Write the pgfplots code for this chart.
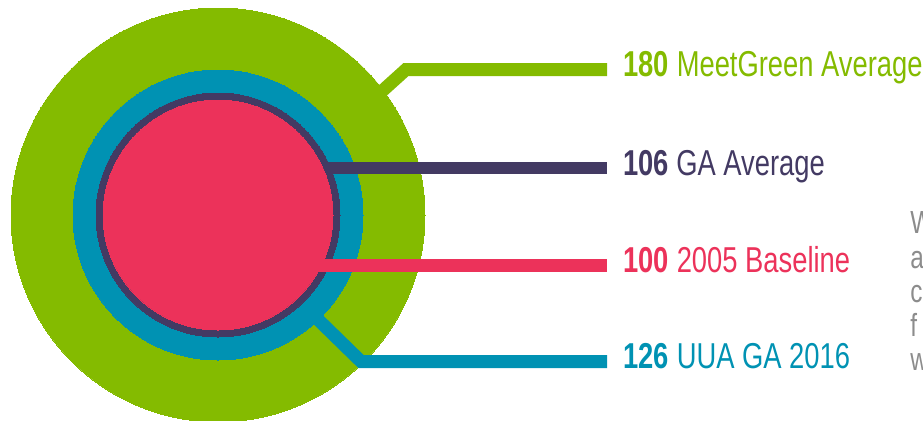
\documentclass[border=0pt]{standalone}
\usepackage{pgfplots}
\pgfplotsset{compat=1.18}
\usepackage{fontspec}
\setmainfont[FakeStretch=0.76]{Liberation Sans}

\definecolor{cgreen}{RGB}{132,187,0}
\definecolor{cblue}{RGB}{0,146,179}
\definecolor{cdark}{RGB}{67,58,99}
\definecolor{cpink}{RGB}{236,50,90}
\definecolor{cgray}{RGB}{140,140,140}

\tikzset{lbl/.style={pos=1, anchor=base west, inner sep=0pt, xshift=5pt, yshift=-3.6pt,
                font=\fontsize{18}{20}\selectfont}}

\begin{document}
\begin{tikzpicture}
\begin{axis}[
    x=0.5pt, y=0.5pt,
    xmin=0, xmax=923, ymin=0, ymax=420,
    y dir=reverse,
    hide axis,
    clip=false,
    clip marker paths=true,
    every axis plot/.append style={line cap=butt, line join=miter},
]
% circles: radius in px = 1.15 * value, 1px = 0.5pt
\addplot [only marks, mark=*, color=cgreen, mark size=103.5pt, mark options={line width=0pt}]
    coordinates {(218,215)};
\addplot [color=cgreen, line width=6.5pt, mark=none]
    coordinates {(370,102) (406,69.5) (607,69.5)}
    node[lbl] {\textbf{180} MeetGreen Average};
\addplot [color=cblue, line width=6.5pt, mark=none]
    coordinates {(300,302) (361,361.5) (607,361.5)}
    node[lbl] {\textbf{126} UUA GA 2016};
\addplot [only marks, mark=*, color=cblue, mark size=72.5pt, mark options={line width=0pt}]
    coordinates {(218,215)};
\addplot [color=cdark, line width=6pt, mark=none]
    coordinates {(300,168) (607,168)}
    node[lbl] {\textbf{106} GA Average};
\addplot [only marks, mark=*, color=cdark, mark size=61pt, mark options={line width=0pt}]
    coordinates {(218,215)};
\addplot [only marks, mark=*, color=cpink, mark size=57.5pt, mark options={line width=0pt}]
    coordinates {(218,215)};
\addplot [color=cpink, line width=6.5pt, mark=none]
    coordinates {(310,265) (607,265)}
    node[lbl] {\textbf{100} 2005 Baseline};
% cut-off side text
\node[anchor=base west, text=cgray, font=\fontsize{16}{17}\selectfont, inner sep=0pt]
      at (axis cs:910,233) {W};
\node[anchor=base west, text=cgray, font=\fontsize{16}{17}\selectfont, inner sep=0pt]
      at (axis cs:910,268) {a};
\node[anchor=base west, text=cgray, font=\fontsize{16}{17}\selectfont, inner sep=0pt]
      at (axis cs:910,302) {c};
\node[anchor=base west, text=cgray, font=\fontsize{16}{17}\selectfont, inner sep=0pt]
      at (axis cs:910,336) {f};
\node[anchor=base west, text=cgray, font=\fontsize{16}{17}\selectfont, inner sep=0pt]
      at (axis cs:910,370) {w};
\end{axis}
\pgfresetboundingbox
\useasboundingbox (current axis.south west) rectangle (current axis.north east);
\end{tikzpicture}
\end{document}
